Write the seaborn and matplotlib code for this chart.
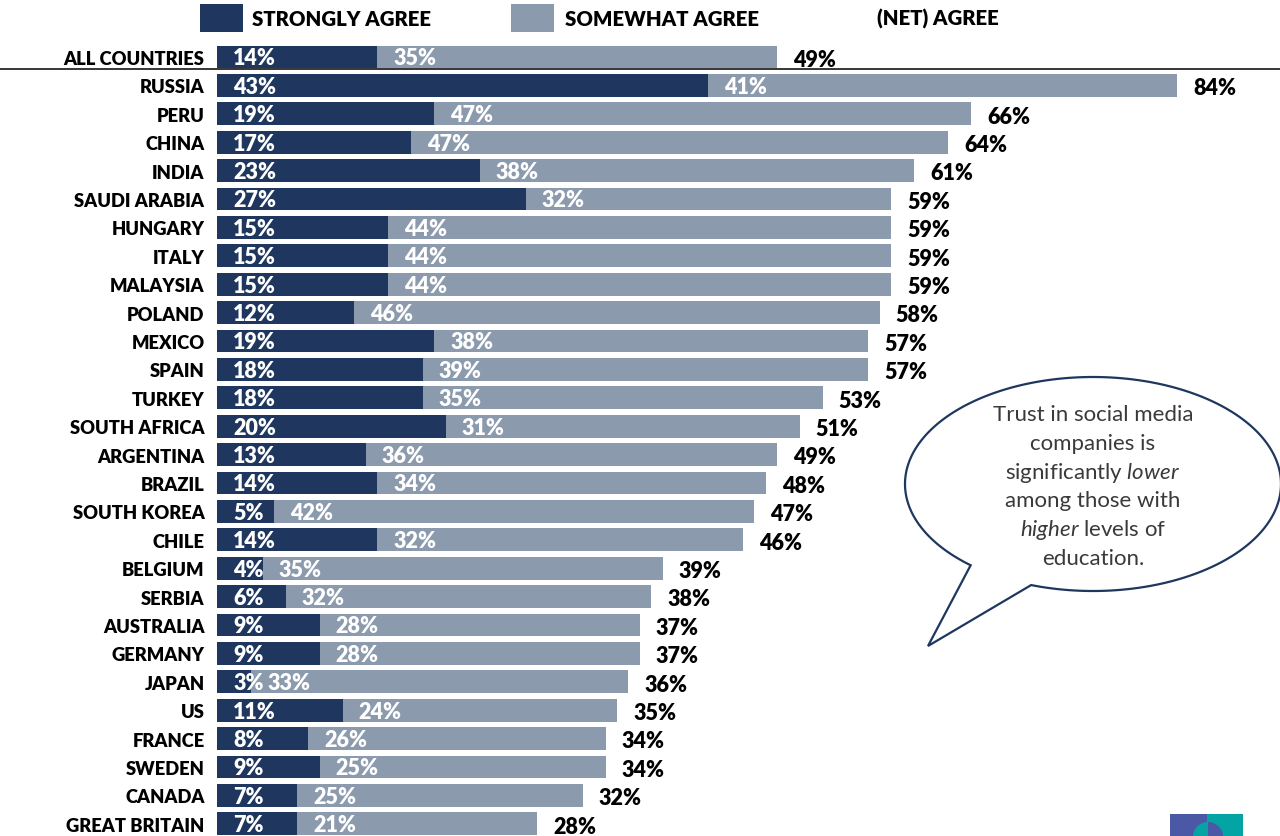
import matplotlib
matplotlib.use("Agg")
import matplotlib.pyplot as plt
import numpy as np
import pandas as pd
import seaborn as sns
from matplotlib.patches import Rectangle, Polygon, Wedge
from matplotlib.lines import Line2D

# ---- data ----
countries = ["ALL COUNTRIES", "RUSSIA", "PERU", "CHINA", "INDIA", "SAUDI ARABIA",
             "HUNGARY", "ITALY", "MALAYSIA", "POLAND", "MEXICO", "SPAIN", "TURKEY",
             "SOUTH AFRICA", "ARGENTINA", "BRAZIL", "SOUTH KOREA", "CHILE", "BELGIUM",
             "SERBIA", "AUSTRALIA", "GERMANY", "JAPAN", "US", "FRANCE", "SWEDEN",
             "CANADA", "GREAT BRITAIN"]
strongly = [14, 43, 19, 17, 23, 27, 15, 15, 15, 12, 19, 18, 18, 20, 13, 14, 5, 14,
            4, 6, 9, 9, 3, 11, 8, 9, 7, 7]
somewhat = [35, 41, 47, 47, 38, 32, 44, 44, 44, 46, 38, 39, 35, 31, 36, 34, 42, 32,
            35, 32, 28, 28, 33, 24, 26, 25, 25, 21]
net = [49, 84, 66, 64, 61, 59, 59, 59, 59, 58, 57, 57, 53, 51, 49, 48, 47, 46,
       39, 38, 37, 37, 36, 35, 34, 34, 32, 28]
legend_labels = ["STRONGLY AGREE", "SOMEWHAT AGREE", "(NET) AGREE"]
callout_lines = ["Trust in social media", "companies is",
                 "significantly $\\it{lower}$", "among those with",
                 "$\\it{higher}$ levels of", "education."]

df = pd.DataFrame({"country": countries, "strongly": strongly,
                   "somewhat": somewhat, "net": net})

# ---- style ----
sns.set_theme(style="white")
plt.rcParams["font.family"] = ["Lato", "DejaVu Sans"]
plt.rcParams["mathtext.fontset"] = "custom"
plt.rcParams["mathtext.it"] = "Lato:italic"
plt.rcParams["mathtext.rm"] = "Lato"

DARK = "#1F375F"
LIGHT = "#8C9AAD"
W, H = 1280, 837
PX_PER_PCT = 160 / 14.0
LEFT_PX = 217
ROW0_PX, ROW_STEP = 58, 28.4
n = len(countries)

fig = plt.figure(figsize=(W / 100, H / 100), dpi=100)
fig.patch.set_facecolor("white")
ax = fig.add_axes([LEFT_PX / W, 0, (W - LEFT_PX) / W, 1])

# stacked bars: full (net) bar in light, strongly-agree segment in dark on top
sns.barplot(data=df, x="net", y="country", color=LIGHT, saturation=1,
            width=0.8, errorbar=None, ax=ax, orient="h", linewidth=0)
sns.barplot(data=df, x="strongly", y="country", color=DARK, saturation=1,
            width=0.8, errorbar=None, ax=ax, orient="h", linewidth=0)

ax.set_xlim(0, (W - LEFT_PX) / PX_PER_PCT)
ax.set_ylim((H - ROW0_PX) / ROW_STEP, -ROW0_PX / ROW_STEP)
ax.set_xticks([])
ax.set_xlabel("")
ax.set_ylabel("")
for s in ax.spines.values():
    s.set_visible(False)
ax.tick_params(axis="y", length=0, pad=9)
ax.set_yticks(range(n))
ax.set_yticklabels(countries, fontsize=13.2, fontweight="heavy", color="black")

off = 16 / PX_PER_PCT
lab_kw = dict(fontsize=15.5, fontweight="heavy", va="center", ha="left")
for i in range(n):
    ax.text(off, i + 0.03, f"{strongly[i]}%", color="white", **lab_kw)
    ax.text(strongly[i] + off, i + 0.03, f"{somewhat[i]}%", color="white", **lab_kw)
    ax.text(net[i] + off, i + 0.08, f"{net[i]}%", color="black", **lab_kw)

# separator under the all-countries row
fig.add_artist(Line2D([0, 1], [1 - 70 / H, 1 - 70 / H], color="black", lw=1.1))

# ---- overlay in pixel coordinates: legend, callout, logo ----
ov = fig.add_axes([0, 0, 1, 1], zorder=5)
ov.set_xlim(0, W)
ov.set_ylim(H, 0)
ov.axis("off")
ov.patch.set_alpha(0)

ov.add_patch(Rectangle((200, 5), 43, 28, color=DARK, lw=0))
ov.add_patch(Rectangle((511, 5), 43, 28, color=LIGHT, lw=0))
leg_kw = dict(fontsize=14.7, fontweight="heavy", va="center", ha="left", color="black")
ov.text(252, 19, legend_labels[0], **leg_kw)
ov.text(565, 19, legend_labels[1], **leg_kw)
ov.text(877, 19, legend_labels[2], **leg_kw)

# speech bubble
cx, cy, a, b = 1093, 485, 188, 107
t = np.radians(np.linspace(130.6, 109.2 + 360, 300))
pts = np.column_stack([cx + a * np.cos(t), cy + b * np.sin(t)])
pts = np.vstack([pts, [[928, 647]]])
ov.add_patch(Polygon(pts, closed=True, facecolor="white", edgecolor="#1F375F",
                     lw=1.6, joinstyle="miter"))
for k, line in enumerate(callout_lines):
    ov.text(1093, 415 + k * 28.8, line, fontsize=16, color="#3A3A3A",
            ha="center", va="center")

# logo corner
ov.add_patch(Rectangle((1170, 815), 37, 30, color="#4B58A6", lw=0))
ov.add_patch(Rectangle((1207, 815), 36, 30, color="#05A4A4", lw=0))
ov.add_patch(Wedge((1208, 838), 15, 90, 270, color="#05A4A4", lw=0))
ov.add_patch(Wedge((1208, 838), 15, -90, 90, color="#4B58A6", lw=0))

fig.savefig("out.png", dpi=100)
